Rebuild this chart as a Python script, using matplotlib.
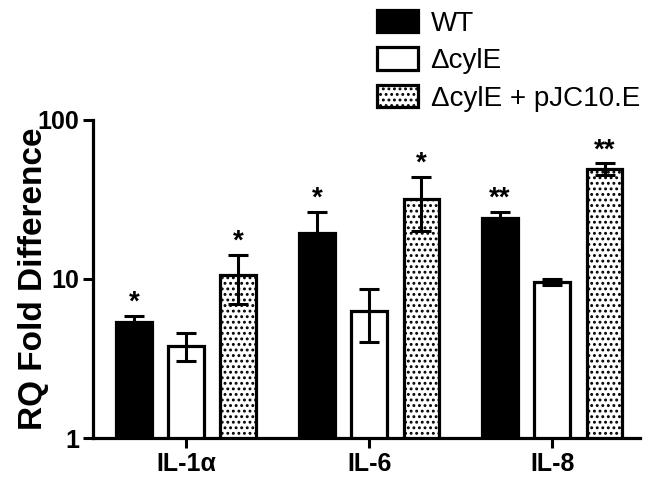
import numpy as np
import matplotlib
matplotlib.use("Agg")
import matplotlib.pyplot as plt
from matplotlib.patches import Patch

plt.rcParams['font.family'] = ['Liberation Sans', 'DejaVu Sans']
plt.rcParams['hatch.linewidth'] = 1.3

groups = ['IL-1\u03b1', 'IL-6', 'IL-8']
series = ['WT', '\u0394cylE', '\u0394cylE + pJC10.E']
wt = [5.4, 19.3, 24.2]
wt_err = [0.45, 7.0, 2.2]
cyle = [3.8, 6.3, 9.6]
cyle_err = [0.75, 2.3, 0.45]
comp = [10.6, 32.0, 49.0]
comp_err = [3.6, 12.0, 4.2]
stars = [['*', '*', '**'], ['', '', ''], ['*', '*', '**']]

fig = plt.figure(figsize=(6.5, 4.83), dpi=100)
ax = fig.add_axes([0.143, 0.093, 0.842, 0.659])

x = np.arange(len(groups))
w = 0.195
off = 0.285
styles = [dict(color='black', edgecolor='black'),
          dict(color='white', edgecolor='black'),
          dict(color='white', edgecolor='black', hatch='...')]
vals = [wt, cyle, comp]
errs = [wt_err, cyle_err, comp_err]
for i in range(3):
    xs = x + (i - 1) * off
    ax.bar(xs, vals[i], width=w, linewidth=2.3, zorder=2, **styles[i])
    ax.errorbar(xs, vals[i], yerr=errs[i], fmt='none', ecolor='black',
                elinewidth=2.2, capsize=7, capthick=2.2, zorder=3)
    for j in range(3):
        if stars[i][j]:
            ax.text(xs[j], vals[i][j] + errs[i][j], stars[i][j], ha='center',
                    va='bottom', fontsize=20, fontweight='bold')

ax.set_yscale('log')
ax.set_ylim(1, 100)
ax.set_xlim(-0.508, 2.48)
ax.set_yticks([1, 10, 100])
ax.set_yticklabels(['1', '10', '100'])
ax.minorticks_off()
ax.set_xticks(x)
ax.set_xticklabels(groups)
for lab in ax.get_xticklabels() + ax.get_yticklabels():
    lab.set_fontweight('bold')
    lab.set_fontsize(18)
ax.tick_params(axis='both', width=2.2, length=7, pad=3)
ax.spines['top'].set_visible(False)
ax.spines['right'].set_visible(False)
ax.spines['left'].set_linewidth(2.3)
ax.spines['bottom'].set_linewidth(2.3)
ax.set_ylabel('RQ Fold Difference', fontsize=24, fontweight='bold')
ax.yaxis.set_label_coords(-0.08, 0.5)

handles = [Patch(facecolor='black', edgecolor='black', linewidth=2.3),
           Patch(facecolor='white', edgecolor='black', linewidth=2.3),
           Patch(facecolor='white', edgecolor='black', linewidth=2.3, hatch='...')]
fig.legend(handles, series, loc='upper left', bbox_to_anchor=(0.55, 1.02),
           frameon=False, fontsize=20, handlelength=1.48, handleheight=0.88,
           labelspacing=0.38, handletextpad=0.45, borderpad=0.2)

fig.savefig('out.png', dpi=100)
